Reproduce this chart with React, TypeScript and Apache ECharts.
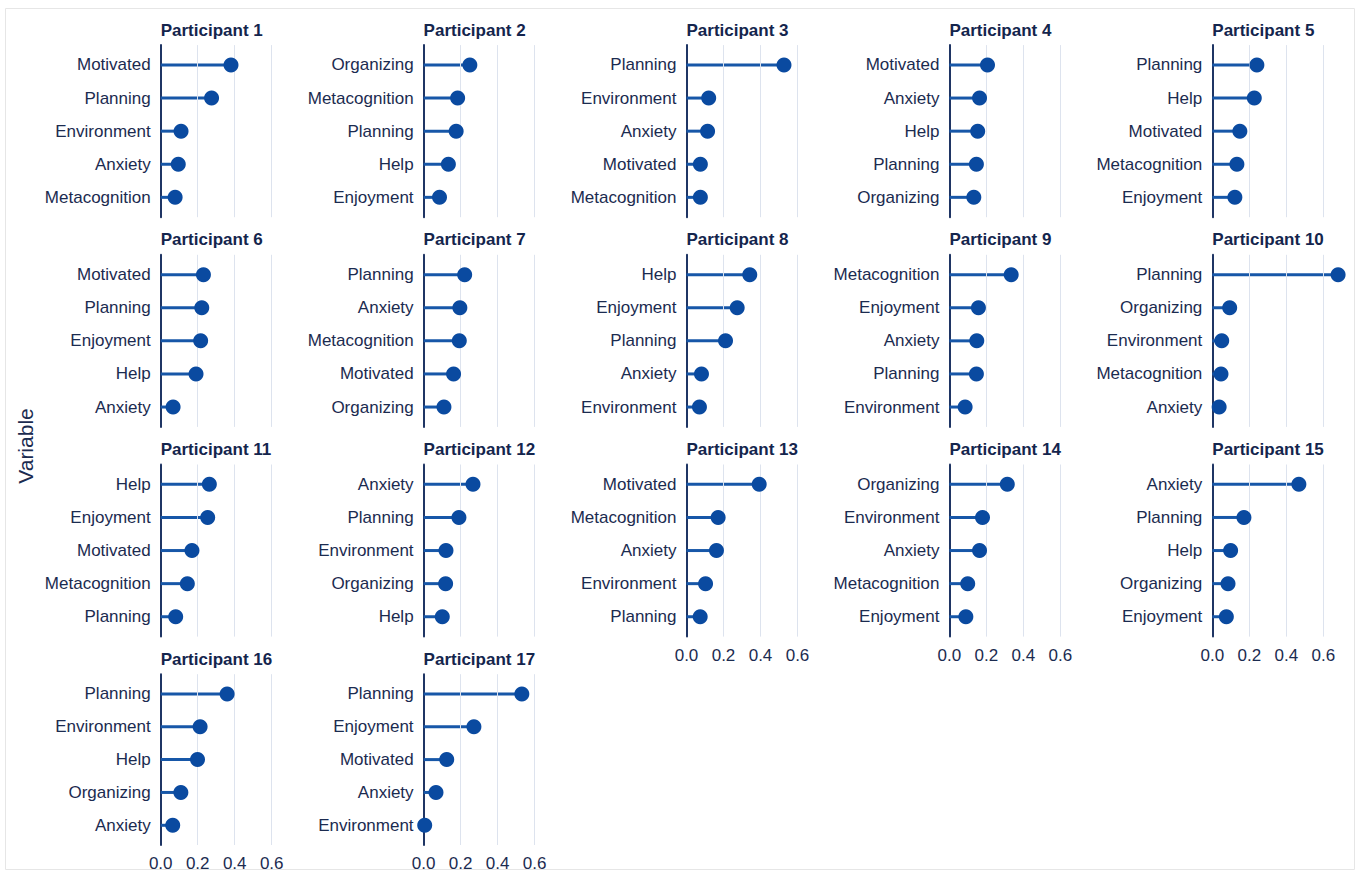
import React, { useEffect, useRef } from "react";
import * as echarts from "echarts";

// Panel titles, one per participant
const participants = [
  "Participant 1", "Participant 2", "Participant 3", "Participant 4", "Participant 5",
  "Participant 6", "Participant 7", "Participant 8", "Participant 9", "Participant 10",
  "Participant 11", "Participant 12", "Participant 13", "Participant 14", "Participant 15",
  "Participant 16", "Participant 17",
];

// Top five variables per participant, listed top to bottom
const variables: string[][] = [
  ["Motivated", "Planning", "Environment", "Anxiety", "Metacognition"],
  ["Organizing", "Metacognition", "Planning", "Help", "Enjoyment"],
  ["Planning", "Environment", "Anxiety", "Motivated", "Metacognition"],
  ["Motivated", "Anxiety", "Help", "Planning", "Organizing"],
  ["Planning", "Help", "Motivated", "Metacognition", "Enjoyment"],
  ["Motivated", "Planning", "Enjoyment", "Help", "Anxiety"],
  ["Planning", "Anxiety", "Metacognition", "Motivated", "Organizing"],
  ["Help", "Enjoyment", "Planning", "Anxiety", "Environment"],
  ["Metacognition", "Enjoyment", "Anxiety", "Planning", "Environment"],
  ["Planning", "Organizing", "Environment", "Metacognition", "Anxiety"],
  ["Help", "Enjoyment", "Motivated", "Metacognition", "Planning"],
  ["Anxiety", "Planning", "Environment", "Organizing", "Help"],
  ["Motivated", "Metacognition", "Anxiety", "Environment", "Planning"],
  ["Organizing", "Environment", "Anxiety", "Metacognition", "Enjoyment"],
  ["Anxiety", "Planning", "Help", "Organizing", "Enjoyment"],
  ["Planning", "Environment", "Help", "Organizing", "Anxiety"],
  ["Planning", "Enjoyment", "Motivated", "Anxiety", "Environment"],
];

// Importance scores, same order as the variables above
const scores: number[][] = [
  [0.38, 0.275, 0.11, 0.095, 0.078],
  [0.25, 0.184, 0.176, 0.134, 0.086],
  [0.527, 0.12, 0.114, 0.075, 0.075],
  [0.206, 0.163, 0.153, 0.146, 0.132],
  [0.241, 0.227, 0.149, 0.133, 0.122],
  [0.231, 0.222, 0.216, 0.191, 0.067],
  [0.222, 0.196, 0.193, 0.162, 0.11],
  [0.342, 0.274, 0.211, 0.081, 0.07],
  [0.334, 0.157, 0.148, 0.146, 0.085],
  [0.68, 0.094, 0.051, 0.047, 0.037],
  [0.263, 0.254, 0.169, 0.144, 0.081],
  [0.267, 0.191, 0.121, 0.119, 0.101],
  [0.393, 0.171, 0.162, 0.103, 0.074],
  [0.313, 0.179, 0.163, 0.099, 0.089],
  [0.468, 0.171, 0.099, 0.085, 0.076],
  [0.359, 0.213, 0.199, 0.109, 0.065],
  [0.531, 0.272, 0.125, 0.067, 0.006],
];

// x-axis tick values and their labels
const xTicks = [0, 0.2, 0.4, 0.6];
const xTickLabels = ["0.0", "0.2", "0.4", "0.6"];
const xMax = 0.72;

// Panels whose x axis carries tick labels (bottom of each column)
const labelledPanels = [12, 13, 14, 15, 16];

const FONT = "'Liberation Sans', Arial, Helvetica, sans-serif";
const TEXT = "#1b2b50";
const DOT = "#0a4aa0";
const STEM = "#1757a8";
const AXIS = "#1f3564";
const GRID = "#dde3ee";

// Layout of the 5-column facet grid
const COLS = 5;
const X0 = 160.7;
const COL_STEP = 262.9;
const Y0 = 45.1;
const ROW_STEP = 209.7;
const PANEL_H = 172.1;
const PANEL_W = 133.2;

export default function App() {
  const ref = useRef<HTMLDivElement>(null);

  useEffect(() => {
    if (!ref.current) return;
    const chart = echarts.init(ref.current, null, { renderer: "svg" });

    const grids: any[] = [];
    const xAxes: any[] = [];
    const yAxes: any[] = [];
    const series: any[] = [];
    const titles: any[] = [];

    participants.forEach((name, k) => {
      const col = k % COLS;
      const row = Math.floor(k / COLS);
      const left = X0 + col * COL_STEP;
      const top = Y0 + row * ROW_STEP;
      const names = variables[k];
      const showX = labelledPanels.includes(k);

      grids.push({ left, top, width: PANEL_W, height: PANEL_H, containLabel: false });

      titles.push({
        text: name,
        left: left,
        top: top - 25,
        padding: 0,
        textStyle: {
          fontFamily: FONT,
          fontSize: 17,
          fontWeight: "bold",
          color: "#14254d",
          lineHeight: 20,
        },
      });

      xAxes.push({
        type: "value",
        gridIndex: k,
        min: 0,
        max: xMax,
        interval: 0.2,
        axisLine: { show: false },
        axisTick: { show: false },
        splitLine: { show: false },
        axisLabel: {
          show: showX,
          margin: 10,
          fontFamily: FONT,
          fontSize: 17,
          color: TEXT,
          formatter: (v: number) => {
            const i = xTicks.findIndex((t) => Math.abs(t - v) < 1e-6);
            return i >= 0 ? xTickLabels[i] : "";
          },
        },
      });

      yAxes.push({
        type: "value",
        gridIndex: k,
        min: 0.4,
        max: 5.6,
        inverse: true,
        axisLine: { show: true, lineStyle: { color: AXIS, width: 2 } },
        axisTick: { show: false },
        splitLine: { show: false },
        axisLabel: {
          margin: 10,
          fontFamily: FONT,
          fontSize: 17,
          color: TEXT,
          formatter: (v: number) => {
            const i = Math.round(v);
            return Math.abs(v - i) < 1e-6 && i >= 1 && i <= names.length ? names[i - 1] : "";
          },
        },
      });

      const points = scores[k].map((s, i) => [s, i + 1]);

      // vertical gridlines at the tick values
      series.push({
        type: "line",
        xAxisIndex: k,
        yAxisIndex: k,
        data: [],
        silent: true,
        markLine: {
          silent: true,
          symbol: "none",
          label: { show: false },
          lineStyle: { color: GRID, width: 1, type: "solid" },
          data: xTicks.filter((t) => t > 0).map((t) => ({ xAxis: t })),
        },
      });

      // stems from zero to each score
      series.push({
        type: "custom",
        xAxisIndex: k,
        yAxisIndex: k,
        encode: { x: 0, y: 1 },
        data: points,
        silent: true,
        renderItem: (_params: any, api: any) => {
          const x = api.value(0);
          const y = api.value(1);
          const a = api.coord([0, y]);
          const b = api.coord([x, y]);
          return {
            type: "line",
            shape: { x1: a[0], y1: a[1], x2: b[0], y2: b[1] },
            style: { stroke: STEM, lineWidth: 3 },
          };
        },
      });

      // dot at each score
      series.push({
        type: "scatter",
        xAxisIndex: k,
        yAxisIndex: k,
        data: points,
        symbol: "circle",
        symbolSize: 15,
        clip: false,
        itemStyle: { color: DOT, opacity: 1 },
        silent: true,
        z: 5,
      });
    });

    chart.setOption({
      animation: false,
      backgroundColor: "#ffffff",
      title: titles,
      grid: grids,
      xAxis: xAxes,
      yAxis: yAxes,
      series,
      graphic: [
        {
          type: "rect",
          shape: { x: 5.5, y: 8.5, width: 1349, height: 861 },
          style: { fill: "none", stroke: "#e6e6e6", lineWidth: 1 },
          silent: true,
          z: -1,
        },
        {
          type: "text",
          x: 25,
          y: 446,
          rotation: Math.PI / 2,
          style: {
            text: "Variable",
            fontFamily: FONT,
            fontSize: 21,
            fill: TEXT,
            align: "center",
            verticalAlign: "middle",
          },
          silent: true,
        },
      ],
    });

    return () => {
      chart.dispose();
    };
  }, []);

  return (
    <div
      ref={ref}
      style={{ position: "absolute", left: 0, top: 0, width: 1362, height: 872, background: "#fff" }}
    />
  );
}
